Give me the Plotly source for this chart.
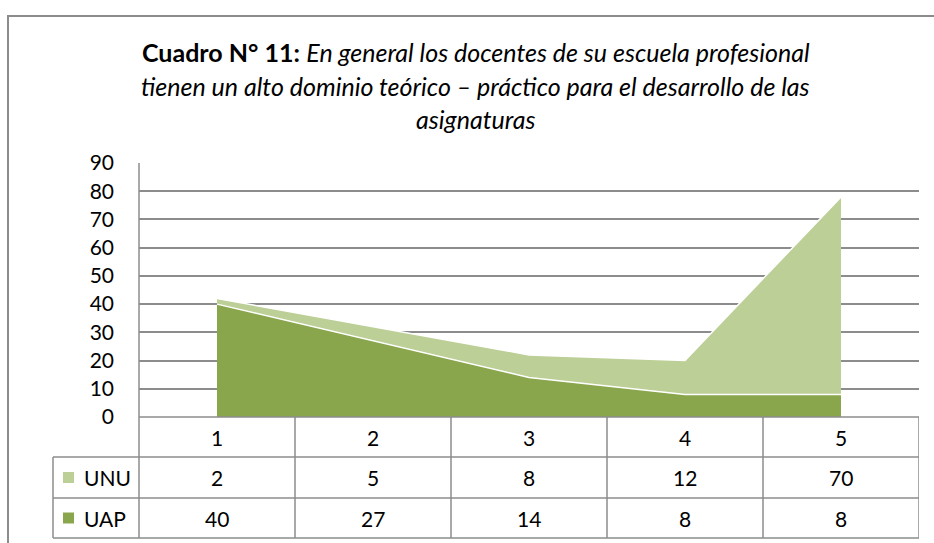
import plotly.graph_objects as go

categorias = [1, 2, 3, 4, 5]
uap = [40, 27, 14, 8, 8]
unu = [2, 5, 8, 12, 70]
series_nombres = ["UNU", "UAP"]
color_unu = "#bccf96"
color_uap = "#8aa64c"

W, H = 934, 543
FONT = "Lato"
GRIS = "#8c8c8c"


def px(x):
    return x / W


def py(y):
    return 1 - y / H


fig = go.Figure()
fig.add_trace(go.Scatter(x=categorias, y=uap, name="UAP", stackgroup="one",
                         mode="lines", line=dict(color="white", width=1.5),
                         fillcolor=color_uap))
fig.add_trace(go.Scatter(x=categorias, y=unu, name="UNU", stackgroup="one",
                         mode="lines", line=dict(color="white", width=1.5),
                         fillcolor=color_unu))

# plot area / table geometry (pixels)
x0, x1 = 139, 919
y_top, y_base = 163, 417
filas = [417, 457, 498, 538]
x_leg = 53

shapes = []
linea = dict(color=GRIS, width=1.5)
# horizontal table lines
shapes.append(dict(type="line", xref="paper", yref="paper", x0=px(x0), x1=px(x1),
                   y0=py(filas[0]), y1=py(filas[0]), line=linea))
for yy in filas[1:]:
    shapes.append(dict(type="line", xref="paper", yref="paper", x0=px(x_leg), x1=px(x1),
                       y0=py(yy), y1=py(yy), line=linea))
# vertical table lines
shapes.append(dict(type="line", xref="paper", yref="paper", x0=px(x_leg), x1=px(x_leg),
                   y0=py(filas[1]), y1=py(filas[3]), line=linea))
shapes.append(dict(type="line", xref="paper", yref="paper", x0=px(x0), x1=px(x0),
                   y0=py(y_top), y1=py(filas[3]), line=linea))
for k in range(1, 6):
    shapes.append(dict(type="line", xref="x", yref="paper", x0=k + 0.5, x1=k + 0.5,
                       y0=py(filas[0]), y1=py(filas[3]), line=linea))
# outer chart border
shapes.append(dict(type="rect", xref="paper", yref="paper", x0=px(8), x1=px(W + 10),
                   y0=py(16), y1=py(H + 10), line=dict(color=GRIS, width=2)))
# legend keys
for nombre, color, (ya, yb) in zip(series_nombres, [color_unu, color_uap],
                                   [(filas[1], filas[2]), (filas[2], filas[3])]):
    yc = (ya + yb) / 2
    shapes.append(dict(type="rect", xref="paper", yref="paper", x0=px(63), x1=px(74),
                       y0=py(yc - 5.5), y1=py(yc + 5.5), fillcolor=color,
                       line=dict(width=0)))

anns = []
txt = dict(family=FONT, size=21, color="black")
yc_head = (filas[0] + filas[1]) / 2
for c in categorias:
    anns.append(dict(x=c, y=py(yc_head), xref="x", yref="paper", text=str(c),
                     showarrow=False, xanchor="center", yanchor="middle", font=txt))
for nombre, vals, (ya, yb) in zip(series_nombres, [unu, uap],
                                  [(filas[1], filas[2]), (filas[2], filas[3])]):
    yc = (ya + yb) / 2
    anns.append(dict(x=px(82), y=py(yc), xref="paper", yref="paper", text=nombre,
                     showarrow=False, xanchor="left", yanchor="middle", font=txt))
    for c, v in zip(categorias, vals):
        anns.append(dict(x=c, y=py(yc), xref="x", yref="paper", text=str(v),
                         showarrow=False, xanchor="center", yanchor="middle", font=txt))

titulo = ["<b>Cuadro N° 11:</b> <i>En general los docentes de su escuela profesional</i>",
          "<i>tienen un alto dominio teórico – práctico para el desarrollo de las</i>",
          "<i>asignaturas</i>"]
for t, yy in zip(titulo, [52, 86, 119]):
    anns.append(dict(x=px(476), y=py(yy), xref="paper", yref="paper", text=t,
                     showarrow=False, xanchor="center", yanchor="middle",
                     font=dict(family=FONT, size=25, color="black")))

fig.update_layout(
    width=W, height=H, margin=dict(l=0, r=0, t=0, b=0, autoexpand=False),
    paper_bgcolor="white", plot_bgcolor="white",
    showlegend=False, shapes=shapes, annotations=anns,
    xaxis=dict(range=[0.5, 5.5], domain=[px(x0), px(x1)], showticklabels=False,
               showgrid=False, zeroline=False, automargin=False),
    yaxis=dict(range=[0, 90], dtick=10, domain=[py(y_base), py(y_top)],
               showgrid=True, gridcolor=GRIS, gridwidth=1.5, zeroline=False,
               automargin=False,
               tickfont=dict(family=FONT, size=21, color="black"),
               ticklabelstandoff=24),
)

fig.write_html("out.html", config={"displayModeBar": False},
               post_script="document.body.style.margin='0';")
